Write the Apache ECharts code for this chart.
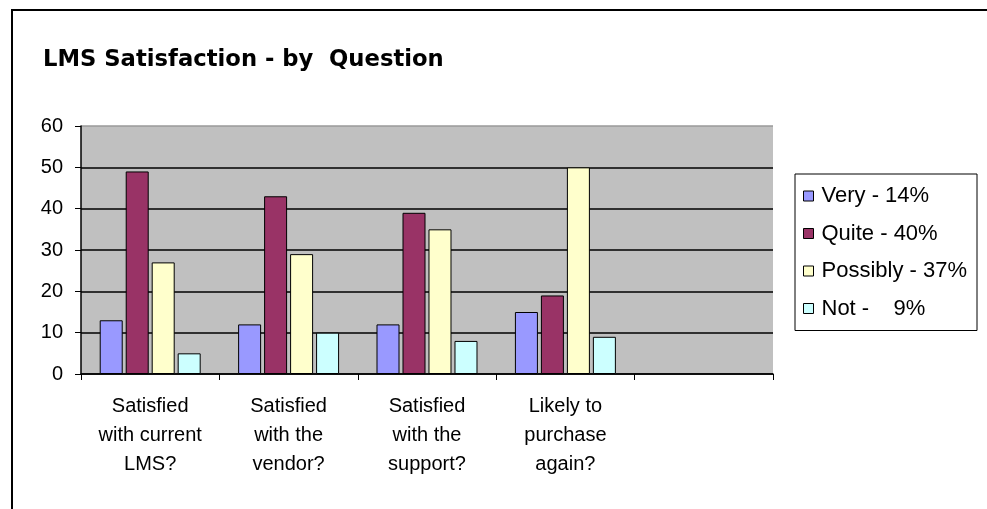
<!DOCTYPE html>
<html>
<head>
<meta charset="utf-8">
<script src="https://cdn.jsdelivr.net/npm/echarts@6/dist/echarts.min.js"></script>
<style>
  html, body { margin: 0; padding: 0; background: #fff; }
  #chart { width: 987px; height: 509px; }
</style>
</head>
<body>
<div id="chart"></div>
<script>
// Survey questions (last slot intentionally left blank)
const categories = [
  'Satisfied\nwith current\nLMS?',
  'Satisfied\nwith the\nvendor?',
  'Satisfied\nwith the\nsupport?',
  'Likely to\npurchase\nagain?',
  ''
];
const seriesNames = ['Very - 14%', 'Quite - 40%', 'Possibly - 37%', 'Not -    9%'];
const veryValues = [13, 12, 12, 15, null];
const quiteValues = [49, 43, 39, 19, null];
const possiblyValues = [27, 29, 35, 50, null];
const notValues = [5, 10, 8, 9, null];
const yTicks = [0, 10, 20, 30, 40, 50, 60];

const colors = ['#9999FF', '#993366', '#FFFFCC', '#CCFFFF'];
const valueSets = [veryValues, quiteValues, possiblyValues, notValues];
const font = 'Liberation Sans, Arial, sans-serif';

const chart = echarts.init(document.getElementById('chart'));

const series = seriesNames.map((name, i) => ({
  name: name,
  type: 'bar',
  data: valueSets[i],
  barWidth: 23,
  barGap: '13%',
  itemStyle: { color: colors[i], borderColor: '#000', borderWidth: 1 }
}));

chart.setOption({
  animation: false,
  backgroundColor: '#fff',
  title: {
    text: 'LMS Satisfaction - by  Question',
    left: 38,
    top: 44,
    textStyle: { fontFamily: 'DejaVu Sans, sans-serif', fontWeight: 'bold', fontSize: 22.7, color: '#000' }
  },
  graphic: [{
    type: 'rect',
    shape: { x: 12, y: 10, width: 1000, height: 530 },
    style: { fill: 'none', stroke: '#000', lineWidth: 2 },
    silent: true
  }],
  legend: {
    orient: 'vertical',
    left: 795,
    top: 174,
    padding: [11, 10, 11, 8],
    itemGap: 15.5,
    itemWidth: 10,
    itemHeight: 10,
    icon: 'rect',
    borderColor: '#000',
    borderWidth: 1,
    backgroundColor: '#fff',
    textStyle: { fontFamily: font, fontSize: 22, color: '#000', padding: [0, 0, 0, 3] },
    data: seriesNames.map((n, i) => ({ name: n, itemStyle: { color: colors[i], borderColor: '#000', borderWidth: 1 } }))
  },
  grid: {
    left: 81,
    right: 214,
    top: 126,
    bottom: 135,
    show: true,
    backgroundColor: '#C0C0C0',
    borderWidth: 0
  },
  xAxis: {
    type: 'category',
    data: categories,
    boundaryGap: true,
    axisLine: { lineStyle: { color: '#000', width: 1.5 } },
    axisTick: { show: true, length: 6, inside: false, alignWithLabel: false, lineStyle: { color: '#000' } },
    axisLabel: {
      interval: 0,
      margin: 18,
      fontFamily: font,
      fontSize: 20,
      lineHeight: 29,
      color: '#000'
    }
  },
  yAxis: {
    type: 'value',
    min: yTicks[0],
    max: yTicks[yTicks.length - 1],
    interval: 10,
    axisLine: { show: true, lineStyle: { color: '#000', width: 1.5 } },
    axisTick: { show: true, length: 6, lineStyle: { color: '#000' } },
    axisLabel: { margin: 18, fontFamily: font, fontSize: 20, color: '#000' },
    splitLine: { show: true, lineStyle: { color: ['#000', '#000', '#000', '#000', '#000', '#000', '#9a9a9a'], width: 1.5 } }
  },
  series: series
});
</script>
</body>
</html>
